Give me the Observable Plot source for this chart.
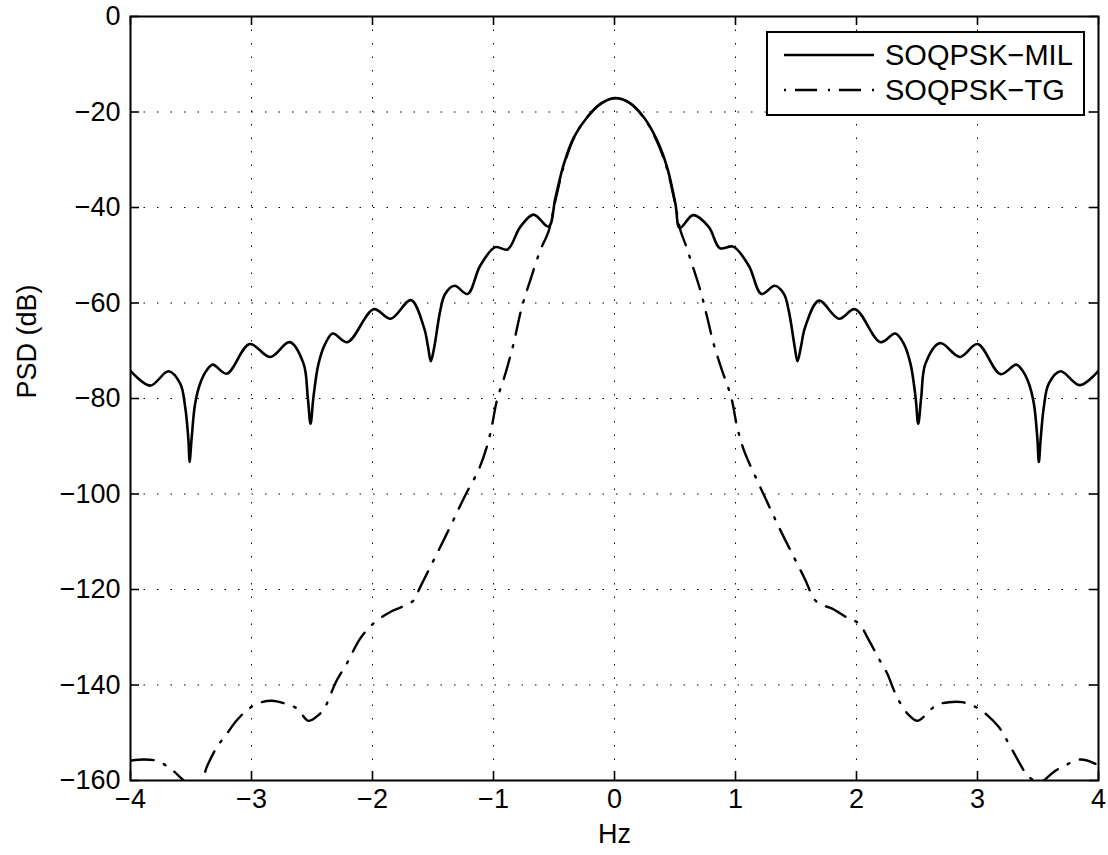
<!DOCTYPE html>
<html>
<head>
<meta charset="utf-8">
<script src="https://cdn.jsdelivr.net/npm/d3@7"></script>
<script src="https://cdn.jsdelivr.net/npm/@observablehq/plot@0.6"></script>
<style>
  html, body { margin: 0; padding: 0; background: #fff; }
  #wrap { position: relative; width: 1108px; height: 855px; font-family: "Liberation Sans", Arial, Helvetica, sans-serif; }
  #legend { position: absolute; left: 766px; top: 31px; }
</style>
</head>
<body>
<div id="wrap"></div>
<script>
// ---- Data ----
const freqMIL = [-4.00,-3.837,-3.686,-3.589,-3.548,-3.521,-3.512,-3.494,-3.466,-3.425,-3.37,-3.32,-3.205,-3.015,-2.845,-2.685,-2.570,-2.535,-2.512,-2.488,-2.446,-2.39,-2.328,-2.207,-1.99,-1.849,-1.683,-1.575,-1.54,-1.518,-1.49,-1.44,-1.40,-1.322,-1.215,-1.11,-0.986,-0.884,-0.78,-0.669,-0.545,-0.488,-0.419,-0.336,-0.226,-0.116,0,0.118,0.242,0.353,0.435,0.504,0.540,0.650,0.78,0.870,0.981,1.11,1.215,1.325,1.40,1.44,1.49,1.512,1.54,1.575,1.69,1.855,1.987,2.198,2.32,2.39,2.446,2.488,2.51,2.535,2.570,2.69,2.855,3.0,3.19,3.32,3.37,3.425,3.466,3.494,3.507,3.521,3.548,3.589,3.686,3.845,4.0];
const psdMIL  = [-74.2,-77.3,-74.3,-76.9,-81.8,-88.8,-93.3,-88.1,-81.1,-76.9,-74.1,-72.9,-74.8,-68.6,-71.3,-68.2,-72.7,-79.7,-85.3,-79.7,-72.7,-68.5,-66.4,-68.2,-61.3,-63.3,-59.4,-65.1,-69.3,-72.2,-69.3,-61.6,-58.1,-56.4,-58.1,-52.2,-48.3,-48.8,-44.1,-41.5,-44.0,-37.9,-30.9,-25.3,-21.1,-18.3,-17.1,-18.0,-21.1,-26.0,-31.6,-39.3,-44.3,-41.6,-44.1,-48.5,-48.2,-52.2,-58.1,-56.4,-58.1,-61.6,-69.3,-72.2,-69.3,-65.1,-59.5,-63.3,-61.3,-68.2,-66.4,-68.5,-72.7,-79.7,-85.3,-79.7,-72.7,-68.4,-71.3,-68.6,-74.9,-72.9,-74.1,-76.9,-81.1,-88.1,-93.3,-88.8,-81.8,-76.9,-74.3,-77.2,-74.2];

const freqTG = [-3.99,-3.89,-3.78,-3.67,-3.56,-3.49,-3.41,-3.37,-3.286,-3.204,-3.121,-3.039,-2.942,-2.832,-2.722,-2.625,-2.529,-2.446,-2.391,-2.35,-2.295,-2.212,-2.102,-1.992,-1.853,-1.744,-1.661,-1.606,-1.537,-1.44,-1.345,-1.234,-1.124,-1.056,-1.015,-0.972,-0.903,-0.835,-0.766,-0.697,-0.614,-0.545,-0.488,-0.419,-0.336,-0.226,-0.116,0,0.118,0.242,0.353,0.435,0.504,0.545,0.585,0.64,0.71,0.766,0.82,0.89,0.964,1.014,1.069,1.165,1.262,1.358,1.468,1.579,1.647,1.702,1.799,1.936,2.019,2.102,2.185,2.254,2.309,2.364,2.433,2.502,2.571,2.654,2.764,2.874,2.984,3.08,3.176,3.259,3.342,3.41,3.465,3.51,3.548,3.63,3.727,3.851,3.975];
const psdTG  = [-155.8,-155.6,-155.9,-157.5,-160.0,-161.5,-160.0,-157.2,-153.0,-150.2,-147.4,-145.3,-143.8,-143.3,-143.9,-144.9,-147.5,-146.3,-144.6,-142.2,-139.0,-135.5,-130.3,-127.1,-124.7,-123.5,-122.3,-119.5,-116.0,-111.1,-106.2,-100.3,-95.0,-90.2,-86.0,-80.4,-74.9,-68.6,-60.9,-55.3,-49.0,-45.0,-38.5,-31.3,-25.5,-21.1,-18.3,-17.1,-18.0,-21.2,-26.3,-32.0,-39.5,-44.8,-47.6,-51.8,-57.4,-63.0,-68.6,-74.2,-79.7,-86.0,-90.8,-96.4,-101.7,-106.9,-112.5,-118.1,-121.9,-123.1,-124.0,-126.1,-127.1,-130.6,-134.5,-137.6,-141.1,-143.9,-146.3,-147.5,-146.3,-144.3,-143.6,-143.6,-144.6,-146.3,-148.8,-152.3,-156.1,-158.9,-160.0,-160.8,-160.0,-158.2,-156.8,-155.6,-156.5];

const xTicks = [-4,-3,-2,-1,0,1,2,3,4];
const yTicks = [0,-20,-40,-60,-80,-100,-120,-140,-160];
const seriesNames = ["SOQPSK\u2212MIL", "SOQPSK\u2212TG"];
const xLabel = "Hz";
const yLabel = "PSD (dB)";

// ---- Build tables ----
const mil = freqMIL.map((f, i) => ({f, psd: psdMIL[i]}));
const tg = freqTG.map((f, i) => ({f, psd: psdTG[i]}));
const fmt = d => d < 0 ? "\u2212" + Math.abs(d) : String(d);
const font = "'Liberation Sans', Arial, Helvetica, sans-serif";
const dashDot = "22,11,2,11";

const W = 1108, H = 855, mL = 130, mR = 10, mT = 16, mB = 75;
const innerH = H - mT - mB, innerW = W - mL - mR;
const tickLen = 9;

const chart = Plot.plot({
  width: W, height: H,
  marginLeft: mL, marginRight: mR, marginTop: mT, marginBottom: mB,
  style: {fontFamily: font, fontSize: "27px", background: "white", color: "black", overflow: "visible"},
  x: {domain: [-4, 4], axis: null},
  y: {domain: [-160, 0], axis: null},
  marks: [
    // dotted grid
    Plot.ruleX(xTicks.slice(1, -1), {x: d => d, stroke: "#000", strokeWidth: 1, strokeDasharray: "1.5,12"}),
    Plot.ruleY(yTicks.slice(1, -1), {y: d => d, stroke: "#000", strokeWidth: 1, strokeDasharray: "1.5,12"}),
    // series
    Plot.line(tg, {x: "f", y: "psd", curve: "catmull-rom", stroke: "black", strokeWidth: 2.4, strokeDasharray: dashDot, clip: true}),
    Plot.line(mil, {x: "f", y: "psd", curve: "catmull-rom", stroke: "black", strokeWidth: 2.6, clip: true}),
    // inward ticks
    Plot.ruleX(xTicks, {x: d => d, insetTop: innerH - tickLen, stroke: "black", strokeWidth: 1.6}),
    Plot.ruleX(xTicks, {x: d => d, insetBottom: innerH - tickLen, stroke: "black", strokeWidth: 1.6}),
    Plot.ruleY(yTicks, {y: d => d, insetRight: innerW - tickLen, stroke: "black", strokeWidth: 1.6}),
    Plot.ruleY(yTicks, {y: d => d, insetLeft: innerW - tickLen, stroke: "black", strokeWidth: 1.6}),
    // box
    Plot.frame({stroke: "black", strokeWidth: 2}),
    // tick labels
    Plot.text(xTicks, {x: d => d, text: fmt, frameAnchor: "bottom", dy: 27, fontSize: 27, fill: "black"}),
    Plot.text(yTicks, {y: d => d, text: fmt, frameAnchor: "left", textAnchor: "end", dx: -10, fontSize: 27, fill: "black"}),
    // axis titles
    Plot.text([xLabel], {text: d => d, frameAnchor: "bottom", dy: 62, fontSize: 27, fill: "black"}),
    Plot.text([yLabel], {text: d => d, frameAnchor: "left", dx: -103, rotate: -90, fontSize: 27, fill: "black"})
  ]
});
document.getElementById("wrap").appendChild(chart);

// ---- Legend ----
const ns = "http://www.w3.org/2000/svg";
const lg = document.createElementNS(ns, "svg");
lg.setAttribute("id", "legend");
lg.setAttribute("width", 319);
lg.setAttribute("height", 85);
const rect = document.createElementNS(ns, "rect");
Object.entries({x: 1, y: 1, width: 317, height: 83, fill: "white", stroke: "black", "stroke-width": 2}).forEach(([k, v]) => rect.setAttribute(k, v));
lg.appendChild(rect);
const rows = [{y: 24, dash: null}, {y: 59, dash: "2,9,22,11"}];
rows.forEach((r, i) => {
  const ln = document.createElementNS(ns, "line");
  Object.entries({x1: 18, x2: 108, y1: r.y, y2: r.y, stroke: "black", "stroke-width": i ? 2.4 : 2.6}).forEach(([k, v]) => ln.setAttribute(k, v));
  if (r.dash) ln.setAttribute("stroke-dasharray", r.dash);
  lg.appendChild(ln);
  const t = document.createElementNS(ns, "text");
  t.setAttribute("x", 119);
  t.setAttribute("y", r.y);
  t.setAttribute("dy", "0.36em");
  t.setAttribute("font-family", font);
  t.setAttribute("font-size", 29);
  t.setAttribute("fill", "black");
  t.textContent = seriesNames[i];
  lg.appendChild(t);
});
document.getElementById("wrap").appendChild(lg);
</script>
</body>
</html>
